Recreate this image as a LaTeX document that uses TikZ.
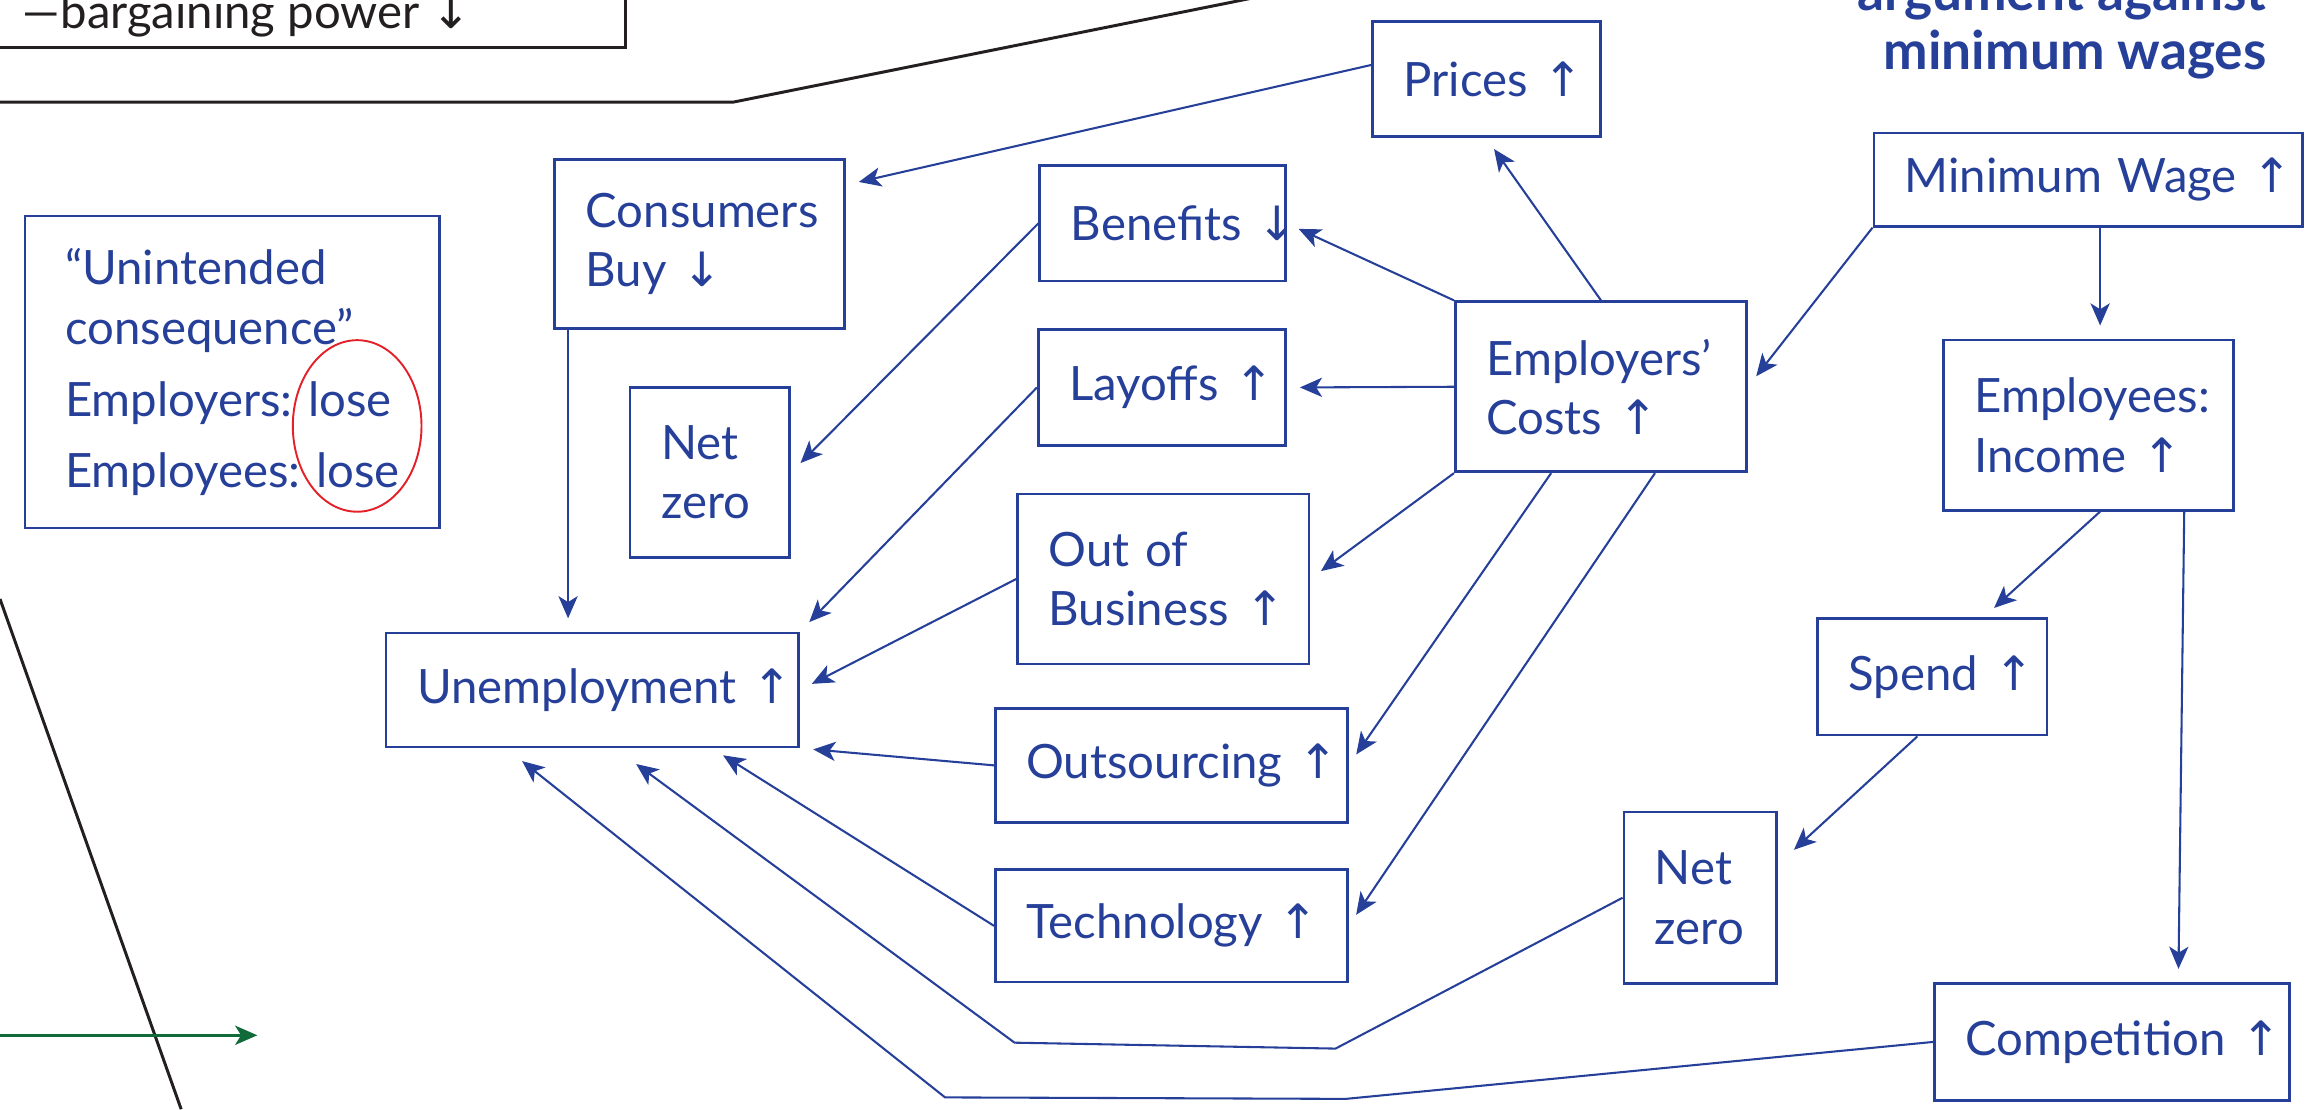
\documentclass[tikz,border=0pt]{standalone}
\usepackage{fontspec}
\setmainfont{Lato}
\newfontfamily\arrowfont{DejaVu Sans}
\usetikzlibrary{arrows.meta}
\definecolor{chartblue}{RGB}{38,64,154}
\definecolor{chartred}{RGB}{228,32,40}
\definecolor{chartgreen}{RGB}{16,106,58}
\definecolor{chartblack}{RGB}{35,31,32}
\newcommand{\arrup}{{\arrowfont ↑}}
\newcommand{\arrdn}{{\arrowfont ↓}}
\tikzset{
	>={Stealth[length=15pt,width=13pt,inset=4pt]},
	effect/.style={
		rectangle,
		draw=chartblue, line width=1.8pt,
		text=chartblue,
		inner xsep=21pt,
		align=left,
		font=\fontsize{32}{40}\selectfont},
	link/.style={draw=chartblue, line width=1.4pt, ->, shorten >=9pt},
	cut/.style={draw=chartblack, line width=2pt},
}

\begin{document}
\begin{tikzpicture}[x=1pt,y=-1pt]
	% the page shows only part of a larger chart
	\clip (0,0) rectangle (1568,750);

	% pieces of the neighbouring chart
	\node (bargain) [anchor=base west, text=chartblack, font=\fontsize{32}{40}\selectfont] at (12,19) {—bargaining~power~\arrdn};
	\draw[cut] (-10,-100) rectangle (423,32);
	\draw[cut] (-5,69) -- (496,69) -- (940,-20);
	\draw[cut] (0,405) -- (122.5,750);
	\draw[->, chartgreen, line width=1.8pt] (-5,700) -- (174,700);

	% title, cut by the top of the page
	\node (title) [anchor=base east, align=right, text=chartblue, font=\fontsize{36}{40.5}\selectfont\bfseries] at (1536,47.3) {argument~against\\minimum~wages};

	% the boxes
	\node (unintended) [effect, inner xsep=27pt, text width=226pt, minimum height=211pt] at (157,251.5)
		{“Unintended\\consequence”\\[8.7pt]Employers:~lose\\[8pt]Employees:~lose};
	\draw[chartred, line width=1.3pt] (241.5,288) ellipse [x radius=43.5pt, y radius=58pt];
	\node (consumers) [effect, text width=154pt, minimum height=114pt] at (473,165) {Consumers\\Buy~\arrdn};
	\node (netzeroL) [effect, text width=66pt, minimum height=115pt] at (480,319.5) {Net\\zero};
	\node (unemp) [effect, text width=237pt, minimum height=77pt] at (400.5,466.5) {Unemployment~\arrup};
	\node (prices) [effect, text width=112pt, minimum height=78pt] at (1005,53.5) {Prices~\arrup};
	\node (benefits) [effect, text width=124pt, minimum height=78pt] at (786,151) {Benefits~\arrdn};
	\node (layoffs) [effect, text width=125pt, minimum height=78pt] at (785.5,262) {Layoffs~\arrup};
	\node (business) [effect, text width=155pt, minimum height=115pt] at (786.5,391.5) {Out~of\\Business~\arrup};
	\node (outsourcing) [effect, text width=196pt, minimum height=77pt] at (792,517.5) {Outsourcing~\arrup};
	\node (technology) [effect, text width=196pt, minimum height=76pt] at (792,626) {Technology~\arrup};
	\node (costs) [effect, text width=155pt, minimum height=115pt] at (1082.5,261.5) {Employers’\\Costs~\arrup};
	\node (minwage) [effect, text width=248pt, minimum height=63pt] at (1412,121.5) {Minimum~Wage~\arrup};
	\node (employees) [effect, text width=154pt, minimum height=115pt] at (1412,287.5) {Employees:\\Income~\arrup};
	\node (spend) [effect, text width=113pt, minimum height=79pt] at (1306.5,457.5) {Spend~\arrup};
	\node (netzeroR) [effect, text width=61pt, minimum height=116pt] at (1149.5,607) {Net\\zero};
	\node (competition) [effect, text width=198pt, minimum height=79pt] at (1428,704.5) {Competition~\arrup};

	% what the higher costs lead to
	\foreach \from/\to in {costs.north/prices.south, costs.north west/benefits.east,
		costs.west/layoffs.east, costs.south west/business.east,
		costs.240/outsourcing.east, costs.302/technology.east}
		\draw[link] (\from) -- (\to);

	% everything that ends in unemployment
	\foreach \from/\to in {layoffs.west/unemp.north east, business.west/unemp.east,
		outsourcing.west/unemp.south east, technology.west/unemp.334,
		benefits.west/netzeroL.east, prices.173/consumers.22}
		\draw[link] (\from) -- (\to);
	\draw[link] ([xshift=10pt]consumers.south west) -- ([xshift=10pt]consumers.south west |- unemp.north);

	% the minimum wage side
	\draw[link] (minwage.south west) -- (costs.east);
	\draw[link] ([xshift=8pt]minwage.south) -- ([xshift=8pt]minwage.south |- employees.north);
	\draw[link] ([xshift=8pt]employees.south) -- (spend.49);
	\draw[link] (employees.318) -- (competition.42);
	\draw[link, shorten >=15pt] (spend.256) -- (netzeroR.23);
	\draw[link, shorten >=18pt] (netzeroR.west) -- (903,709) -- (686,705) -- (unemp.291);
	\draw[link, shorten >=14pt] (competition.west) -- (910,743) -- (639,742) -- (unemp.214);
\end{tikzpicture}
\end{document}
